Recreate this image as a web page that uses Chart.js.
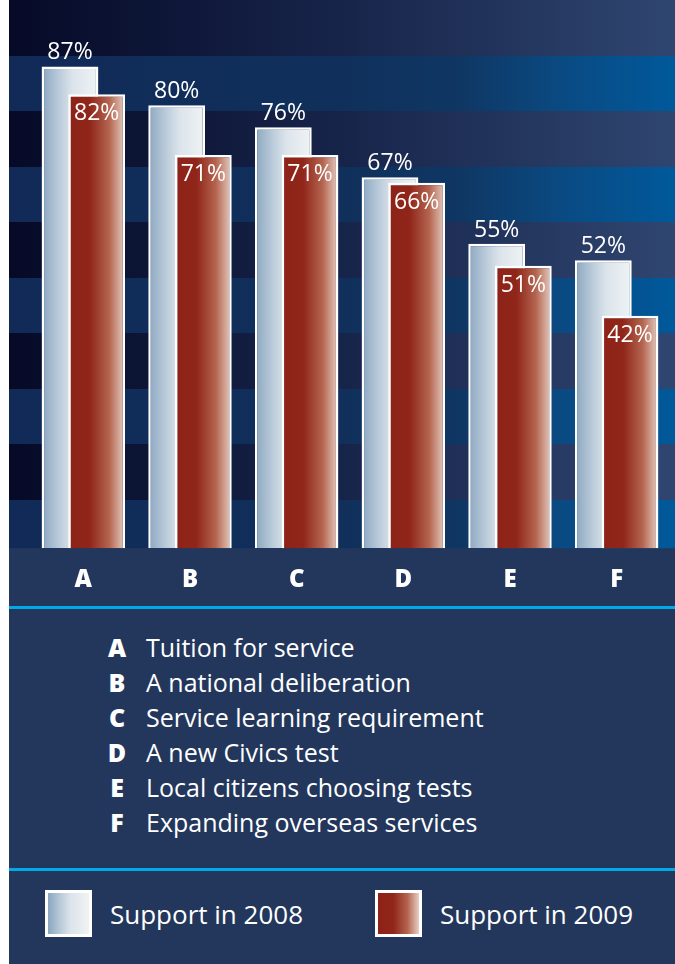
<!DOCTYPE html>
<html>
<head>
<meta charset="utf-8">
<script src="https://cdn.jsdelivr.net/npm/chart.js@4.4.0/dist/chart.umd.min.js"></script>
<style>
    html, body { margin: 0; padding: 0; background: #fff; }
    body { width: 675px; height: 964px; position: relative; overflow: hidden; font-family: "Open Sans", Lato, sans-serif; }
    #panel { position: absolute; left: 9px; top: 0; width: 666px; height: 964px; background: #23375c; }
    #chartBox { position: absolute; left: 0; top: 0; width: 666px; height: 613px; }
    .rule { position: absolute; left: 0; width: 666px; height: 3px; background: #00a9e8; }
    #key { position: absolute; left: 0; top: 630px; width: 666px; color: #fff; font-size: 25px; line-height: 35px; }
    #key .row { display: flex; white-space: nowrap; }
    #key .letter { width: 36px; margin-left: 90px; margin-right: 11px; text-align: center; font-weight: 800; }
    .item { position: absolute; top: 890px; height: 47px; display: flex; align-items: center; color: #fff; font-size: 26px; white-space: nowrap; }
    .swatch { width: 47px; height: 47px; box-sizing: border-box; border: 3px solid #fff; margin-right: 18px; }
</style>
</head>
<body>
<div id="panel">
    <div id="chartBox"><canvas id="barChart"></canvas></div>
    <div class="rule" style="top:606px"></div>
    <div id="key"></div>
    <div class="rule" style="top:868px"></div>
    <div id="legend"></div>
</div>
<script>
'use strict';

var categories = ['A', 'B', 'C', 'D', 'E', 'F'];
var descriptions = [
    'Tuition for service',
    'A national deliberation',
    'Service learning requirement',
    'A new Civics test',
    'Local citizens choosing tests',
    'Expanding overseas services'
];
var support2008 = [87, 80, 76, 67, 55, 52];
var support2009 = [82, 71, 71, 66, 51, 42];
var seriesLabels = ['Support in 2008', 'Support in 2009'];

var catPct = 0.5;
var barPct = 2.13;
var fontFamily = '"Open Sans", Lato, sans-serif';

// bar fills: steel blue to white, brick red to pale
var lightStops = [[0, '#8aa6c0'], [0.3, '#b9cad9'], [0.55, '#dce4eb'], [1, '#eff3f4']];
var redStops = [[0, '#8e2218'], [0.38, '#90261a'], [0.72, '#b4654f'], [1, '#e8cfc5']];

function barGradient(stops) {
    return function (ctx) {
        var chart = ctx.chart;
        var xs = chart.scales.x;
        if (!chart.chartArea || !xs) return stops[0][1];
        var cx = xs.getPixelForValue(ctx.dataIndex);
        var catW = xs.width / categories.length;
        var chunk = catW * catPct / 2;
        var center = cx - catW * catPct / 2 + chunk * (ctx.datasetIndex + 0.5);
        var half = chunk * barPct / 2;
        var g = chart.ctx.createLinearGradient(center - half, 0, center + half, 0);
        stops.forEach(function (s) { g.addColorStop(s[0], s[1]); });
        return g;
    };
}

// ------------------------------------------------------- //
// Striped background behind the bars
// ------------------------------------------------------ //
var stripes = {
    id: 'stripes',
    beforeDraw: function (chart) {
        var c = chart.ctx, w = chart.width, bottom = chart.chartArea.bottom;
        var dark = c.createLinearGradient(0, 0, w, 0);
        dark.addColorStop(0, '#060a27');
        dark.addColorStop(0.5, '#17244a');
        dark.addColorStop(1, '#2f4670');
        var blue = c.createLinearGradient(0, 0, w, 0);
        blue.addColorStop(0, '#112a57');
        blue.addColorStop(0.5, '#10305b');
        blue.addColorStop(0.68, '#0f3764');
        blue.addColorStop(0.83, '#0a4a82');
        blue.addColorStop(1, '#00599b');
        var h = 55.5;
        c.save();
        for (var i = 0; i * h < bottom; i++) {
            c.fillStyle = i % 2 === 0 ? dark : blue;
            var y0 = Math.round(i * h);
            var y1 = Math.min(bottom, Math.round((i + 1) * h));
            c.fillRect(0, y0, w, y1 - y0);
        }
        c.restore();
    }
};

// 2009 bars sit in front of 2008 bars, then the value labels
var frontBars = {
    id: 'frontBars',
    beforeDatasetDraw: function (chart, args) {
        if (args.index === 1) return false;
    },
    afterDatasetsDraw: function (chart) {
        chart.getDatasetMeta(1).controller.draw();
        var c = chart.ctx;
        c.save();
        c.fillStyle = '#fff';
        c.font = '23px ' + fontFamily;
        c.textAlign = 'center';
        c.textBaseline = 'alphabetic';
        chart.data.datasets.forEach(function (ds, di) {
            chart.getDatasetMeta(di).data.forEach(function (bar, i) {
                var y = di === 0 ? bar.y - 7 : bar.y + 26;
                c.fillText(ds.data[i] + '%', bar.x, y);
            });
        });
        c.restore();
    }
};

var BARCHART = document.getElementById('barChart');
var myBarChart = new Chart(BARCHART, {
    type: 'bar',
    plugins: [stripes, frontBars],
    data: {
        labels: categories,
        datasets: [
            {
                label: seriesLabels[0],
                data: support2008,
                backgroundColor: barGradient(lightStops),
                borderColor: '#fff',
                borderWidth: 2.5,
                categoryPercentage: catPct,
                barPercentage: barPct
            },
            {
                label: seriesLabels[1],
                data: support2009,
                backgroundColor: barGradient(redStops),
                borderColor: '#fff',
                borderWidth: 2.5,
                categoryPercentage: catPct,
                barPercentage: barPct
            }
        ]
    },
    options: {
        responsive: true,
        maintainAspectRatio: false,
        animation: false,
        layout: { padding: { left: 21, right: 5, top: 0, bottom: 0 } },
        plugins: {
            legend: { display: false },
            tooltip: { enabled: false }
        },
        scales: {
            x: {
                grid: { display: false, drawTicks: false },
                border: { display: false },
                ticks: {
                    color: '#fff',
                    padding: 18,
                    font: { family: fontFamily, size: 24, weight: 800 }
                }
            },
            y: {
                display: false,
                min: 0,
                max: 99
            }
        }
    }
});

// key of category letters
var key = document.getElementById('key');
categories.forEach(function (cat, i) {
    var row = document.createElement('div');
    row.className = 'row';
    row.innerHTML = '<span class="letter">' + cat + '</span><span>' + descriptions[i] + '</span>';
    key.appendChild(row);
});

// legend built from the chart's datasets
var legendFills = [
    'linear-gradient(to right, #8aa6c0, #b9cad9 30%, #dce4eb 55%, #eff3f4)',
    'linear-gradient(to right, #8e2218, #90261a 38%, #b4654f 72%, #e8cfc5)'
];
var legendLeft = [36, 366];
var legend = document.getElementById('legend');
myBarChart.data.datasets.forEach(function (ds, i) {
    var item = document.createElement('div');
    item.className = 'item';
    item.style.left = legendLeft[i] + 'px';
    item.innerHTML = '<span class="swatch" style="background:' + legendFills[i] + '"></span><span>' + ds.label + '</span>';
    legend.appendChild(item);
});
</script>
</body>
</html>
